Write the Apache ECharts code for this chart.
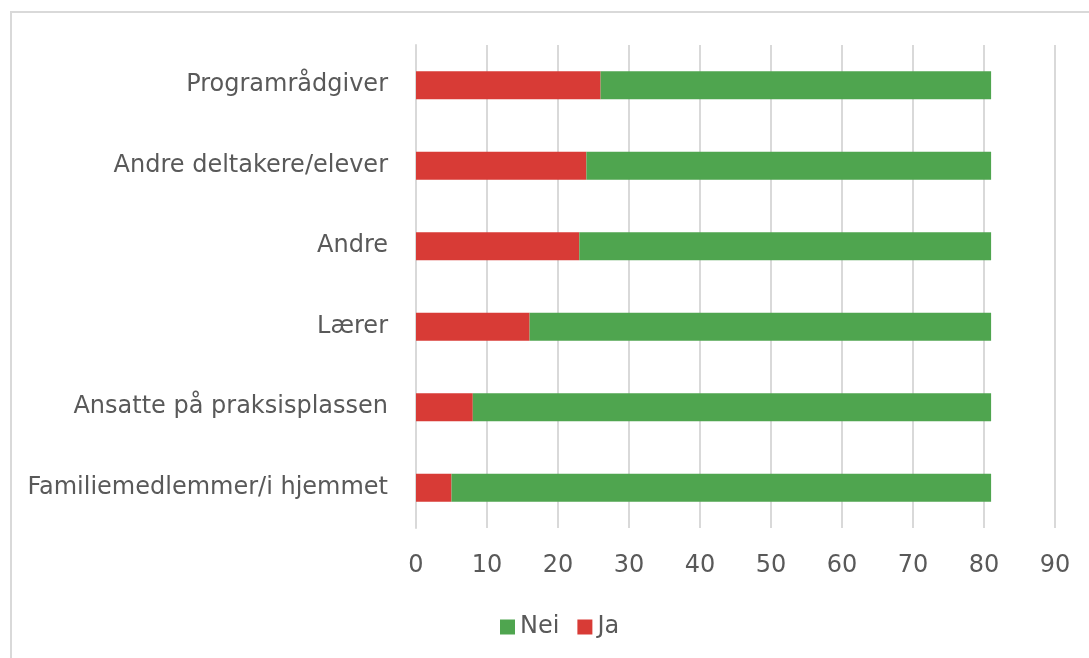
<!DOCTYPE html>
<html>
<head>
<meta charset="utf-8">
<script src="https://cdn.jsdelivr.net/npm/echarts@6/dist/echarts.min.js"></script>
<style>
  body { margin: 0; background: #fff; }
  #main { width: 1089px; height: 658px; position: absolute; left: 0; top: 0; }
  #frame { position: absolute; left: 10px; top: 11px; width: 1200px; height: 800px;
           border-left: 2px solid #d9d9d9; border-top: 2px solid #d9d9d9; }
</style>
</head>
<body>
<div id="frame"></div>
<div id="main"></div>
<script>
  var categories = ['Familiemedlemmer/i hjemmet', 'Ansatte på praksisplassen', 'Lærer', 'Andre', 'Andre deltakere/elever', 'Programrådgiver'];
  var ja = [5, 8, 16, 23, 24, 26];
  var nei = [76, 73, 65, 58, 57, 55];

  var font = 'DejaVu Sans';
  var myChart = echarts.init(document.getElementById('main'));
  myChart.setOption({
    animation: false,
    textStyle: { fontFamily: font },
    legend: {
      data: ['Nei', 'Ja'],
      bottom: 19,
      left: 500,
      padding: 0,
      itemWidth: 15,
      itemHeight: 15,
      itemGap: 18,
      icon: 'rect',
      textStyle: { fontSize: 24, color: '#595959', fontFamily: font }
    },
    grid: {
      left: 416,
      right: 34,
      top: 45,
      bottom: 130
    },
    xAxis: {
      type: 'value',
      min: 0,
      max: 90,
      interval: 10,
      axisLine: { show: false },
      axisTick: { show: false },
      splitLine: { lineStyle: { color: '#d9d9d9', width: 2 } },
      axisLabel: { fontSize: 24, color: '#595959', margin: 26, fontFamily: font }
    },
    yAxis: {
      type: 'category',
      data: categories,
      axisLine: { show: true, lineStyle: { color: '#d9d9d9', width: 2 } },
      axisTick: { show: false },
      axisLabel: { fontSize: 24, color: '#595959', margin: 28, fontFamily: font }
    },
    series: [{
        name: 'Ja',
        type: 'bar',
        stack: '1',
        data: ja,
        barWidth: 28,
        itemStyle: { color: '#d83b36' }
      },
      {
        name: 'Nei',
        type: 'bar',
        stack: '1',
        data: nei,
        barWidth: 28,
        itemStyle: { color: '#4fa54f' }
      }
    ]
  });
</script>
</body>
</html>
